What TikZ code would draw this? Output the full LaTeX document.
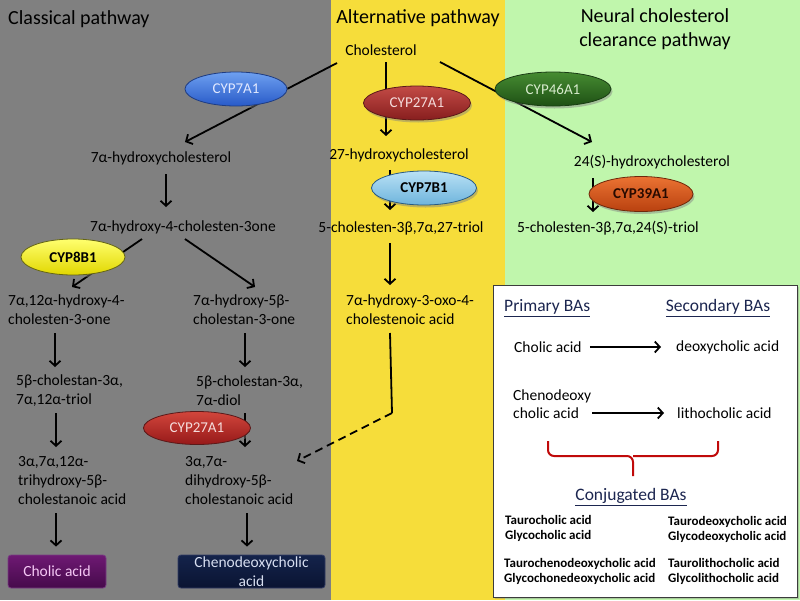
\documentclass[tikz,border=0pt]{standalone}
\usepackage{fontspec}
\setmainfont{Carlito}
\usetikzlibrary{shapes.geometric,arrows.meta,shadows,calc}
\definecolor{bggray}{RGB}{128,128,128}
\definecolor{bgyellow}{RGB}{246,221,58}
\definecolor{bggreen}{RGB}{192,246,172}
\definecolor{headnavy}{RGB}{28,38,80}
\definecolor{bracered}{RGB}{192,10,10}
\begin{document}
\begin{tikzpicture}[x=1pt,y=-1pt,
  chem/.style={font=\fontsize{15.5}{19}\selectfont, inner sep=0pt, align=left},
  title/.style={font=\fontsize{20}{23.5}\selectfont, inner sep=0pt, align=center},
  arr/.style={line width=1.8pt, -{Straight Barb[length=5pt,width=11pt]}},
  enz/.style={ellipse, inner sep=0pt, line width=0.8pt, font=\fontsize{15}{18}\selectfont,
    drop shadow={opacity=0.45, shadow xshift=1.5pt, shadow yshift=-2.5pt}},
  accbox/.style={rectangle, rounded corners=3pt, inner sep=0pt, line width=0.8pt,
    font=\fontsize{15.5}{19}\selectfont, align=center,
    drop shadow={opacity=0.45, shadow xshift=1.5pt, shadow yshift=-2.5pt}},
  head/.style={font=\fontsize{17.5}{20}\selectfont, inner sep=0pt, text=headnavy},
  small/.style={font=\bfseries\fontsize{13}{15}\selectfont, inner sep=0pt, align=left, anchor=west},
  boxtxt/.style={font=\fontsize{15.5}{17.5}\selectfont, inner sep=0pt, align=left, anchor=west}
]
\useasboundingbox (0,0) rectangle (800,600);
% backgrounds
\fill[bggray] (0,0) rectangle (331,600);
\fill[bgyellow] (331,0) rectangle (505,600);
\fill[bggreen] (505,0) rectangle (800,600);

% titles
\node[title, anchor=west] (tclass) at (8,19) {Classical pathway};
\node[title] (talt) at (418,18) {Alternative pathway};
\node[title] (tneur) at (655,29) {Neural cholesterol\\clearance pathway};

% compounds
\node[chem] (chol) at (381,50) {Cholesterol};
\node[chem] (h7) at (161,158) {7α-hydroxycholesterol};
\node[chem] (h7c) at (183,227) {7α-hydroxy-4-cholesten-3one};
\node[chem] (h27) at (399,155) {27-hydroxycholesterol};
\node[chem] (triol27) at (401,228) {5-cholesten-3β,7α,27-triol};
\node[chem] (h24) at (652,162) {24(S)-hydroxycholesterol};
\node[chem] (triol24) at (608,228) {5-cholesten-3β,7α,24(S)-triol};
\node[chem, anchor=west] (oxo) at (346,310) {7α-hydroxy-3-oxo-4-\\cholestenoic acid};
\node[chem, anchor=west] (h712) at (8,310) {7α,12α-hydroxy-4-\\cholesten-3-one};
\node[chem, anchor=west] (h5b) at (193,310) {7α-hydroxy-5β-\\cholestan-3-one};
\node[chem, anchor=west] (triol) at (16,391) {5β-cholestan-3α,\\7α,12α-triol};
\node[chem, anchor=west] (diol) at (196,391) {5β-cholestan-3α,\\7α-diol};
\node[chem, anchor=west] (tri) at (18,481) {3α,7α,12α-\\trihydroxy-5β-\\cholestanoic acid};
\node[chem, anchor=west] (di) at (185,481) {3α,7α-\\dihydroxy-5β-\\cholestanoic acid};

% end products
\node[accbox, draw={rgb,255:red,120;green,60;blue,130}, top color={rgb,255:red,110;green,25;blue,115},
  bottom color={rgb,255:red,70;green,10;blue,75}, text={rgb,255:red,245;green,200;blue,245},
  minimum width=98pt, minimum height=33pt] (cholic) at (57,571.5) {Cholic acid};
\node[accbox, draw={rgb,255:red,50;green,60;blue,100}, top color={rgb,255:red,20;green,35;blue,75},
  bottom color={rgb,255:red,10;green,20;blue,50}, text={rgb,255:red,215;green,222;blue,240},
  font=\fontsize{15.5}{18.5}\selectfont,
  minimum width=147pt, minimum height=33pt] (cdca) at (251.5,571.5) {Chenodeoxycholic\\acid};

% arrows
\draw[arr] ($(chol)+(-44,13)$) -- ($(h7)+(24,-16)$);
\draw[arr] ($(chol)+(5,12)$) -- ($(h27)+(-13,-19)$);
\draw[arr] ($(chol)+(59,12)$) -- ($(h24)+(-60,-20)$);
\draw[arr] ($(h7)+(5,16)$) -- ($(h7c)+(-17,-20)$);
\draw[arr] ($(h7c)+(-41,12)$) -- ($(h712.west)+(64,-23)$);
\draw[arr] ($(h7c)+(2,12)$) -- ($(h5b.west)+(62,-23)$);
\draw[arr] ($(h712.west)+(47,23)$) -- ($(triol.west)+(39,-24)$);
\draw[arr] ($(h5b.west)+(52,23)$) -- ($(diol.west)+(49,-24)$);
\draw[arr] ($(triol.west)+(40,22)$) -- ($(tri.west)+(38,-34)$);
\draw[arr] ($(diol.west)+(49,22)$) -- ($(di.west)+(60,-34)$);
\draw[arr] ($(tri.west)+(38,32)$) -- ($(cholic.north)+(-1,-8)$);
\draw[arr] ($(di.west)+(62,32)$) -- ($(cdca.north)+(-4.5,-8)$);
\draw[arr] ($(h27)+(-9,15)$) -- ($(triol27)+(-11,-18)$);
\draw[arr] ($(triol27)+(-11,15)$) -- ($(oxo.west)+(44,-25)$);
\draw[arr] ($(h24)+(-59,16)$) -- ($(triol24)+(-15,-16)$);
\coordinate (bend) at ($(oxo.west)+(46,103)$);
\draw[line width=1.8pt] ($(oxo.west)+(44,23)$) -- (bend);
\draw[arr, dashed, dash pattern=on 8pt off 5pt] (bend) -- ($(di.west)+(112,-20)$);

% enzymes
\node[enz, draw={rgb,255:red,30;green,60;blue,130}, top color={rgb,255:red,110;green,160;blue,240},
  bottom color={rgb,255:red,40;green,90;blue,200}, text={rgb,255:red,225;green,232;blue,255},
  minimum width=102pt, minimum height=34pt] (e7a1) at (236,89) {CYP7A1};
\node[enz, draw={rgb,255:red,90;green,25;blue,25}, top color={rgb,255:red,195;green,75;blue,70},
  bottom color={rgb,255:red,135;green,30;blue,30}, text={rgb,255:red,245;green,220;blue,220},
  minimum width=107pt, minimum height=34pt] (e27a) at (417,103) {CYP27A1};
\node[enz, draw={rgb,255:red,25;green,60;blue,20}, top color={rgb,255:red,70;green,140;blue,50},
  bottom color={rgb,255:red,30;green,80;blue,20}, text={rgb,255:red,215;green,235;blue,205},
  minimum width=116pt, minimum height=34pt] (e46) at (553,89) {CYP46A1};
\node[enz, draw={rgb,255:red,40;green,90;blue,130}, top color={rgb,255:red,185;green,225;blue,245},
  bottom color={rgb,255:red,110;green,180;blue,220}, text=black, font=\bfseries\fontsize{15}{18}\selectfont,
  minimum width=105pt, minimum height=34pt] (e7b1) at (424,188) {CYP7B1};
\node[enz, draw={rgb,255:red,110;green,40;blue,10}, top color={rgb,255:red,235;green,115;blue,50},
  bottom color={rgb,255:red,185;green,65;blue,15}, text={rgb,255:red,40;green,10;blue,0}, font=\bfseries\fontsize{15}{18}\selectfont,
  minimum width=104pt, minimum height=35pt] (e39) at (641,194) {CYP39A1};
\node[enz, draw={rgb,255:red,100;green,100;blue,20}, top color={rgb,255:red,255;green,255;blue,110},
  bottom color={rgb,255:red,225;green,215;blue,0}, text=black, font=\bfseries\fontsize{15}{18}\selectfont,
  minimum width=104pt, minimum height=36pt] (e8b1) at (73,257) {CYP8B1};
\node[enz, draw={rgb,255:red,90;green,25;blue,25}, top color={rgb,255:red,210;green,70;blue,60},
  bottom color={rgb,255:red,150;green,25;blue,25}, text={rgb,255:red,245;green,220;blue,220},
  minimum width=107pt, minimum height=33pt] (e27b) at (197,428) {CYP27A1};

% bile acid box
\node[rectangle, draw={rgb,255:red,60;green,60;blue,60}, line width=1pt, fill=white,
  minimum width=304pt, minimum height=312pt, inner sep=0pt,
  drop shadow={opacity=0.35, shadow xshift=1.5pt, shadow yshift=-2pt}] (bab) at (645,441) {};
\node[head, anchor=west] (prim) at (504,308) {\underline{Primary BAs}};
\node[head] (sec) at (718,308) {\underline{Secondary BAs}};
\node[boxtxt] (cholicS) at (514,347) {Cholic acid};
\node[boxtxt] (deoxy) at (676,347) {deoxycholic acid};
\node[boxtxt] (cdcaS) at (513,404) {Chenodeoxy\\cholic acid};
\node[boxtxt] (litho) at (677,413) {lithocholic acid};
\draw[arr] ($(cholicS.east)+(8,0)$) -- ($(deoxy.west)+(-15,0)$);
\draw[arr] ($(litho.west)+(-85,0)$) -- ($(litho.west)+(-13,0)$);
\draw[bracered, line width=2pt, rounded corners=6pt] (548,441) |- (633,456) -- (633,476);
\draw[bracered, line width=2pt, rounded corners=6pt] (718,441) |- (633,456);
\node[head] (conj) at (631,497) {\underline{Conjugated BAs}};
\node[small] (c1) at (505,528.5) {Taurocholic acid\\Glycocholic acid};
\node[small] (c2) at (668,529.5) {Taurodeoxycholic acid\\Glycodeoxycholic acid};
\node[small] (c3) at (504,571) {Taurochenodeoxycholic acid\\Glycochonedeoxycholic acid};
\node[small] (c4) at (668,571) {Taurolithocholic acid\\Glycolithocholic acid};
\end{tikzpicture}
\end{document}
